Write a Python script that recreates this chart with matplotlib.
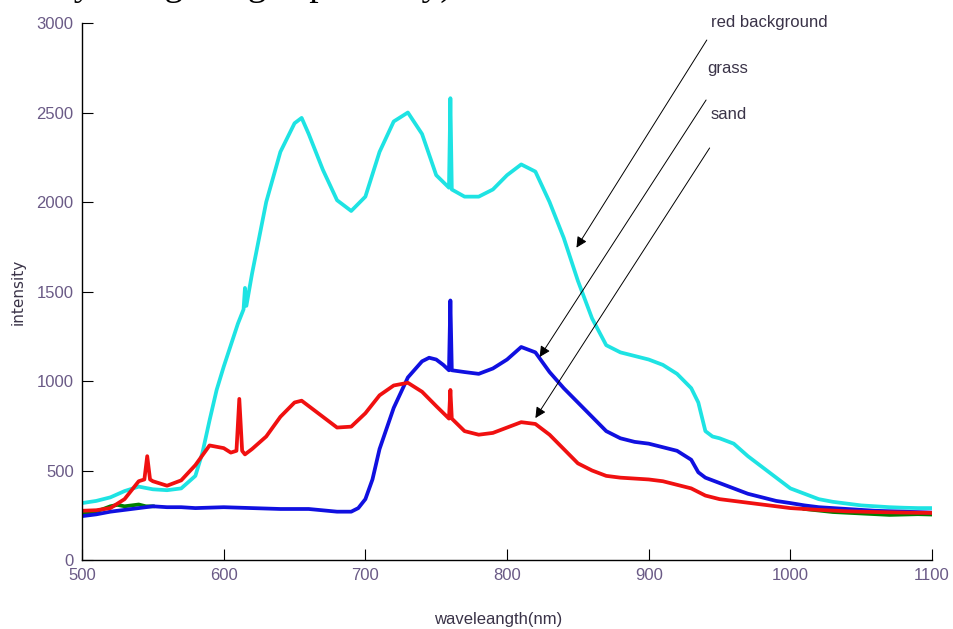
import numpy as np
import matplotlib
matplotlib.use("Agg")
import matplotlib.pyplot as plt

# ---- values ----
wl_cyan = [500, 510, 520, 530, 540, 550, 560, 570, 580, 585, 590, 595, 600, 610,
           614, 615, 616, 620, 630, 640, 650, 655, 660, 670, 680, 690, 700, 710,
           720, 730, 740, 750, 759, 760, 761, 770, 780, 790, 800, 810, 820, 830,
           840, 850, 860, 870, 880, 890, 900, 910, 920, 930, 935, 940, 945, 950,
           960, 970, 980, 990, 1000, 1010, 1020, 1030, 1040, 1050, 1060, 1070,
           1080, 1090, 1100]
cyan = [318, 330, 350, 385, 410, 395, 390, 400, 470, 600, 780, 950, 1080, 1320,
        1400, 1520, 1420, 1600, 2000, 2280, 2440, 2470, 2380, 2180, 2010, 1950,
        2030, 2280, 2450, 2500, 2380, 2150, 2080, 2580, 2070, 2030, 2030, 2070,
        2150, 2210, 2170, 2000, 1800, 1560, 1350, 1200, 1160, 1140, 1120, 1090,
        1040, 960, 880, 720, 690, 680, 650, 580, 520, 460, 400, 370, 340, 325,
        315, 305, 300, 295, 292, 290, 290]

wl_blue = [500, 510, 520, 530, 540, 550, 560, 570, 580, 600, 620, 640, 660, 680,
           690, 695, 700, 705, 710, 720, 730, 740, 745, 750, 755, 759, 760, 761,
           770, 780, 790, 800, 810, 820, 830, 840, 850, 860, 870, 880, 890, 900,
           910, 920, 930, 935, 940, 950, 960, 970, 980, 990, 1000, 1010, 1020,
           1040, 1060, 1080, 1100]
blue = [245, 255, 270, 280, 290, 300, 295, 295, 290, 295, 290, 285, 285, 270,
        270, 290, 340, 450, 620, 850, 1020, 1110, 1130, 1120, 1090, 1060, 1450,
        1060, 1050, 1040, 1070, 1120, 1190, 1160, 1050, 960, 880, 800, 720, 680,
        660, 650, 630, 610, 560, 490, 460, 430, 400, 370, 350, 330, 318, 305,
        295, 285, 275, 270, 265]

wl_red = [500, 510, 520, 530, 540, 544, 546, 548, 550, 560, 570, 580, 590, 600,
          605, 609, 611, 613, 615, 620, 630, 640, 650, 655, 660, 670, 680, 690,
          700, 710, 720, 730, 740, 750, 759, 760, 761, 770, 780, 790, 800, 810,
          820, 830, 840, 850, 860, 870, 880, 890, 900, 910, 920, 930, 940, 950,
          960, 980, 1000, 1020, 1040, 1060, 1080, 1100]
red = [275, 278, 290, 340, 440, 450, 580, 450, 440, 415, 445, 530, 640, 625,
       600, 610, 900, 610, 590, 620, 690, 800, 880, 890, 860, 800, 740, 745,
       820, 920, 975, 990, 940, 860, 790, 950, 790, 720, 700, 710, 740, 770,
       760, 700, 620, 540, 500, 470, 460, 455, 450, 440, 420, 400, 360, 340,
       330, 310, 290, 280, 272, 268, 265, 263]

wl_green = [500, 505, 510, 515, 520, 525, 530, 535, 540, 545, 550, 780,
            1010, 1030, 1050, 1070, 1090, 1100]
green = [255, 265, 272, 285, 300, 308, 300, 305, 310, 300, 300, np.nan,
         285, 268, 260, 252, 256, 254]

x_ticks = [500, 600, 700, 800, 900, 1000, 1100]
y_ticks = [0, 500, 1000, 1500, 2000, 2500, 3000]

tick_color = '#6a5a86'
text_color = '#3a3348'
plt.rcParams['font.family'] = ['Liberation Sans', 'DejaVu Sans']

fig = plt.figure(figsize=(9.54, 6.29), dpi=100)
ax = fig.add_axes((0.086, 0.1097, 0.891, 0.8537))

for wl, vals, col in [(wl_green, green, '#008000'), (wl_cyan, cyan, '#1ee3e3'),
                      (wl_blue, blue, '#1010e0'), (wl_red, red, '#f01010')]:
    ax.plot(wl, vals, color=col, lw=2.7, solid_joinstyle='round')

ax.set_xlim(500, 1100)
ax.set_ylim(0, 3000)
ax.set_xticks(x_ticks)
ax.set_yticks(y_ticks)
ax.tick_params(direction='in', length=8, width=0.8, labelsize=12,
               labelcolor=tick_color)
ax.tick_params(axis='x', pad=6)
ax.tick_params(axis='y', pad=6)
for s in ['top', 'right']:
    ax.spines[s].set_visible(False)
for s in ['left', 'bottom']:
    ax.spines[s].set_linewidth(1.0)

ax.set_xlabel('waveleangth(nm)', fontsize=12, color=text_color)
ax.xaxis.set_label_coords(0.489, -0.097)
ax.set_ylabel('intensity', fontsize=11, color=text_color,
              family=['DejaVu Sans'])
ax.yaxis.set_label_coords(-0.066, 0.5)

# arrows with labels
arrow = dict(arrowstyle='-|>', color='black', lw=0.7, mutation_scale=16,
             shrinkA=0, shrinkB=0)
ax.annotate('', xy=(849, 1745), xytext=(941, 2905), arrowprops=arrow)
ax.annotate('', xy=(823, 1134), xytext=(940.5, 2570), arrowprops=arrow)
ax.annotate('', xy=(820, 793), xytext=(943, 2302), arrowprops=arrow)
ax.text(944, 2975, 'red background', fontsize=12, color=text_color)
ax.text(941, 2720, 'grass', fontsize=12, color=text_color)
ax.text(944, 2465, 'sand', fontsize=12, color=text_color)

# caption text of the page, clipped at the top edge (only descenders show)
fig.text(0.058, 1.0 - 3 / 629, 'by using a high spectrally)', fontsize=27,
         family=['Liberation Serif'], va='bottom', ha='left')

fig.savefig('out.png', dpi=100)
